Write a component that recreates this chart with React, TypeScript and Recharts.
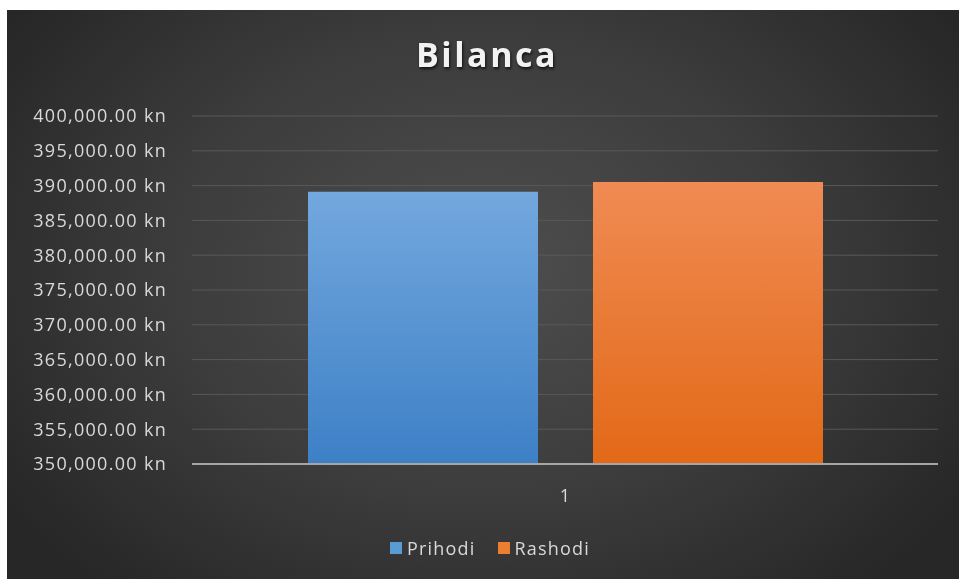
import { BarChart, Bar, XAxis, YAxis, CartesianGrid } from 'recharts';

const categories = ['1'];
const prihodi = [389130];
const rashodi = [390500];
const yTicks = [350000, 355000, 360000, 365000, 370000, 375000, 380000, 385000, 390000, 395000, 400000];

const data = categories.map((c, i) => ({ name: c, Prihodi: prihodi[i], Rashodi: rashodi[i] }));

const FONT = '"Open Sans", "Noto Sans", sans-serif';

const fmtKn = (v: number) =>
  `${v.toLocaleString('en-US', { minimumFractionDigits: 2, maximumFractionDigits: 2 })} kn`;

const legendItems = [
  { label: 'Prihodi', color: '#5b9bd5' },
  { label: 'Rashodi', color: '#ed7d31' },
];

export default function App() {
  return (
    <div style={{ position: 'fixed', left: 0, top: 0, width: 959, height: 579, background: '#fff' }}>
      <div
        style={{
          position: 'absolute',
          left: 7,
          top: 10,
          width: 952,
          height: 569,
          background: 'radial-gradient(ellipse 60% 75% at 50% 45%, #4e4e4e 0%, #3c3c3c 55%, #272727 100%)',
          fontFamily: FONT,
        }}
      >
        <div
          style={{
            position: 'absolute',
            left: 4,
            width: 952,
            top: 21,
            textAlign: 'center',
            color: '#f2f2f2',
            fontSize: 34,
            fontWeight: 700,
            letterSpacing: 2.5,
            textShadow: '1px 2px 3px rgba(0,0,0,0.7)',
          }}
        >
          Bilanca
        </div>
        <BarChart
          width={952}
          height={569}
          data={data}
          margin={{ top: 106, right: 21, left: 0, bottom: 85 }}
          barGap={55}
          style={{ position: 'absolute', left: 0, top: 0 }}
        >
          <defs>
            <linearGradient id="gBlue" x1="0" y1="0" x2="0" y2="1">
              <stop offset="0%" stopColor="#73a8de" />
              <stop offset="100%" stopColor="#3d80c6" />
            </linearGradient>
            <linearGradient id="gOrange" x1="0" y1="0" x2="0" y2="1">
              <stop offset="0%" stopColor="#f08b53" />
              <stop offset="100%" stopColor="#e26917" />
            </linearGradient>
          </defs>
          <CartesianGrid vertical={false} stroke="#595959" strokeWidth={1} />
          <XAxis
            dataKey="name"
            axisLine={{ stroke: '#a6a6a6', strokeWidth: 2 }}
            tickLine={false}
            tickSize={0}
            tickMargin={25}
            tick={{ fill: '#d9d9d9', fontSize: 18, fontFamily: FONT }}
          />
          <YAxis
            domain={[350000, 400000]}
            ticks={yTicks}
            width={185}
            axisLine={false}
            tickLine={false}
            tickSize={0}
            tickMargin={25}
            tickFormatter={fmtKn}
            tick={{ fill: '#d9d9d9', fontSize: 18, fontFamily: FONT, letterSpacing: 1.3 }}
            allowDataOverflow
          />
          <Bar dataKey="Prihodi" fill="url(#gBlue)" barSize={230} isAnimationActive={false} />
          <Bar dataKey="Rashodi" fill="url(#gOrange)" barSize={230} isAnimationActive={false} />
        </BarChart>
        <div
          style={{
            position: 'absolute',
            left: 7,
            width: 952,
            top: 526,
            display: 'flex',
            justifyContent: 'center',
            gap: 22,
            color: '#d9d9d9',
            fontSize: 18,
            letterSpacing: 1.2,
          }}
        >
          {legendItems.map((it) => (
            <div key={it.label} style={{ display: 'flex', alignItems: 'center', gap: 5 }}>
              <span style={{ display: 'inline-block', width: 12, height: 12, background: it.color }} />
              <span>{it.label}</span>
            </div>
          ))}
        </div>
      </div>
    </div>
  );
}
